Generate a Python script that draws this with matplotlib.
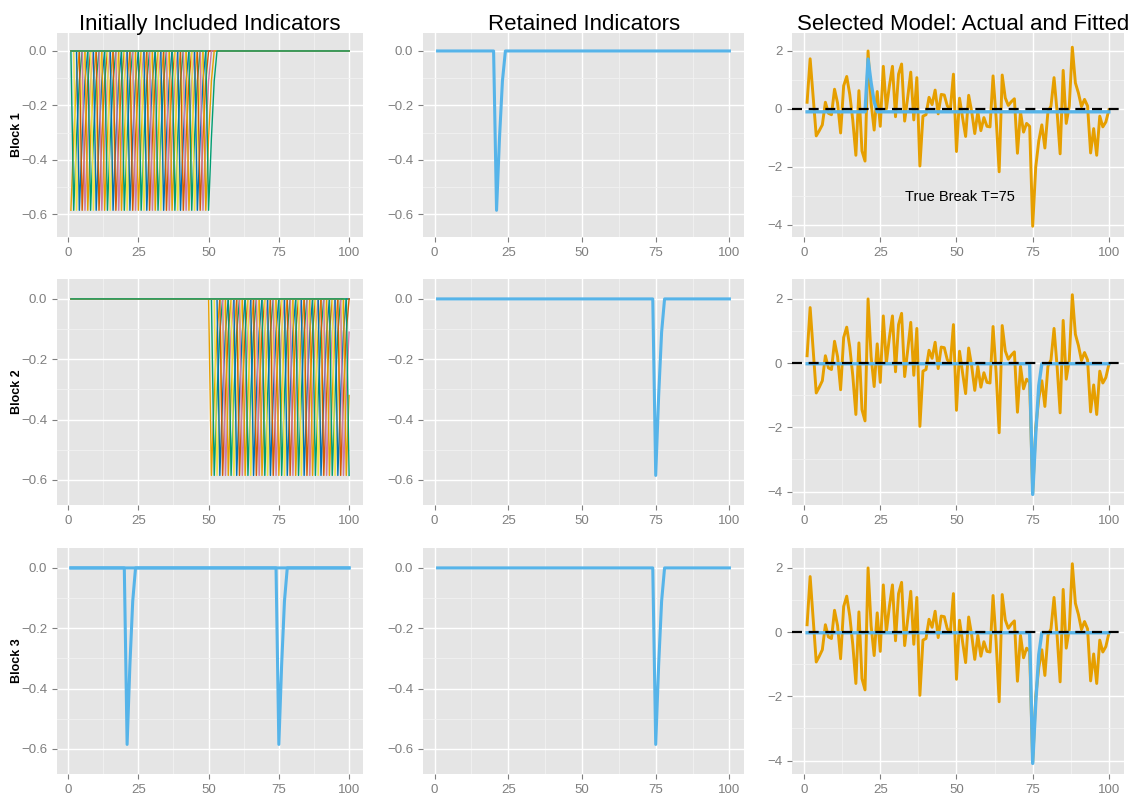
import numpy as np
import matplotlib
matplotlib.use("Agg")
from matplotlib import pyplot as plt
from matplotlib.ticker import MultipleLocator

plt.rcParams['font.family'] = ['Liberation Sans', 'DejaVu Sans']

# data
t = np.arange(1, 101)
actual = [0.23, 1.73, 0.4, -0.93, -0.75, -0.55, 0.23, -0.15, -0.2, 0.68,
          0.2, -0.83, 0.8, 1.12, 0.5, -0.4, -1.6, 0.63, -1.45, -1.8,
          2.0, 0.2, -0.73, 0.6, -0.6, 1.47, 0.0, 0.8, 1.47, -0.27,
          1.2, 1.55, -0.42, 0.4, 1.27, -0.38, 1.08, -1.97, -0.25, -0.2,
          0.4, 0.15, 0.65, -0.17, 0.5, 0.48, 0.1, 0.0, 1.2, -1.47,
          0.37, -0.3, -0.95, 0.47, -0.1, -0.85, -0.1, -0.75, -0.3, -0.6,
          -0.62, 1.14, -0.3, -2.17, 1.17, 0.38, 0.12, 0.25, 0.35, -1.53,
          -0.1, -0.8, -0.5, -0.6, -4.05, -2.0, -1.1, -0.55, -1.35, -0.1,
          0.1, 1.08, -0.1, -1.55, 1.33, -0.5, 0.1, 2.13, 0.9, 0.55,
          0.08, 0.33, 0.1, -1.52, -0.68, -1.6, -0.25, -0.62, -0.45, -0.03]

# shape of one break indicator (value at start, start+1, start+2)
ind_shape = [-0.585, -0.32, -0.11]

block1_starts = list(range(1, 51))
block2_starts = list(range(51, 101))
block3_starts = [21, 75]
retained = {1: [21], 2: [75], 3: [75]}

# fitted: level and the values around the retained break
fit_level = {1: -0.1, 2: -0.02, 3: -0.02}
fit_spike = {1: [1.72, 0.9, 0.25], 2: [-4.09, -2.2, -0.7], 3: [-4.09, -2.2, -0.7]}

palette = ["#E69F00", "#009E73", "#F0E442", "#0072B2", "#D55E00", "#CC79A7"]
ORANGE = "#E69F00"
BLUE = "#56B4E9"


def indicator(start):
  s = np.zeros(100)
  for k, v in enumerate(ind_shape):
    if start + k <= 100:
      s[start + k - 1] = v
  return s


def fitted(b):
  s = np.full(100, fit_level[b])
  st = retained[b][0]
  for k, v in enumerate(fit_spike[b]):
    s[st + k - 1] = v
  return s


def style(ax, ymajor, yminor, ylim, fmt):
  ax.set_facecolor("#E5E5E5")
  ax.set_xlim(-3.95, 104.95)
  ax.set_ylim(*ylim)
  ax.xaxis.set_major_locator(MultipleLocator(25))
  ax.xaxis.set_minor_locator(MultipleLocator(12.5))
  ax.yaxis.set_major_locator(MultipleLocator(ymajor))
  ax.yaxis.set_minor_locator(MultipleLocator(yminor))
  ax.yaxis.set_major_formatter(fmt)
  ax.grid(which="major", color="white", lw=1.0)
  ax.grid(which="minor", color="#F2F2F2", lw=0.6)
  ax.set_axisbelow(True)
  for sp in ax.spines.values():
    sp.set_visible(False)
  ax.tick_params(which="major", colors="#7F7F7F", labelsize=9.5, length=3.5, width=0.8)
  ax.tick_params(which="minor", length=0)


W, H = 1133, 794
fig = plt.figure(figsize=(W / 100, H / 100), dpi=100)
cols = [(57, 363), (423, 744), (792, 1124)]
rows = [(33, 237), (279, 505), (548, 774)]


def make_ax(r, c):
  x0, x1 = cols[c]
  y0, y1 = rows[r]
  return fig.add_axes([x0 / W, 1 - y1 / H, (x1 - x0) / W, (y1 - y0) / H])


small_fmt = lambda v, p: ("%.1f" % v).replace("-", "\u2212") if abs(v) > 1e-9 else "0.0"
big_fmt = lambda v, p: ("%d" % round(v)).replace("-", "\u2212")
ind_lim = (-0.683, 0.066)
fit_lim = (-4.42, 2.62)

starts_by_block = {1: block1_starts, 2: block2_starts, 3: block3_starts}
for r, b in enumerate([1, 2, 3]):
  # initially included
  ax = make_ax(r, 0)
  style(ax, 0.2, 0.1, ind_lim, plt.FuncFormatter(small_fmt))
  if b == 3:
    for st in block3_starts:
      ax.plot(t, indicator(st), color=BLUE, lw=2.2)
  else:
    for i, st in enumerate(starts_by_block[b]):
      ax.plot(t, indicator(st), color=palette[i % len(palette)], lw=1.0)
  fig.text(17 / W, 1 - (sum(rows[r]) / 2) / H, "Block %d" % b, rotation=90,
           ha="center", va="center", fontsize=9, fontweight="bold")

  # retained
  ax = make_ax(r, 1)
  style(ax, 0.2, 0.1, ind_lim, plt.FuncFormatter(small_fmt))
  for st in retained[b]:
    ax.plot(t, indicator(st), color=BLUE, lw=2.2)

  # actual and fitted
  ax = make_ax(r, 2)
  style(ax, 2, 1, fit_lim, plt.FuncFormatter(big_fmt))
  ax.plot(t, actual, color=ORANGE, lw=2.1)
  ax.plot(t, fitted(b), color=BLUE, lw=2.4)
  ax.axhline(0, color="black", lw=1.6, ls=(0, (4.5, 3)))
  if b == 1:
    ax.text(51, -3.05, "True Break T=75", fontsize=10.5, ha="center", va="center")

titles = ["Initially Included Indicators", "Retained Indicators",
          "Selected Model: Actual and Fitted"]
title_x = [210, 584, 963]
for c, ttl in enumerate(titles):
  fig.text(title_x[c] / W, 1 - 30 / H, ttl, ha="center", va="baseline",
           fontsize=16)

fig.savefig("out.png", dpi=100, facecolor="white")
